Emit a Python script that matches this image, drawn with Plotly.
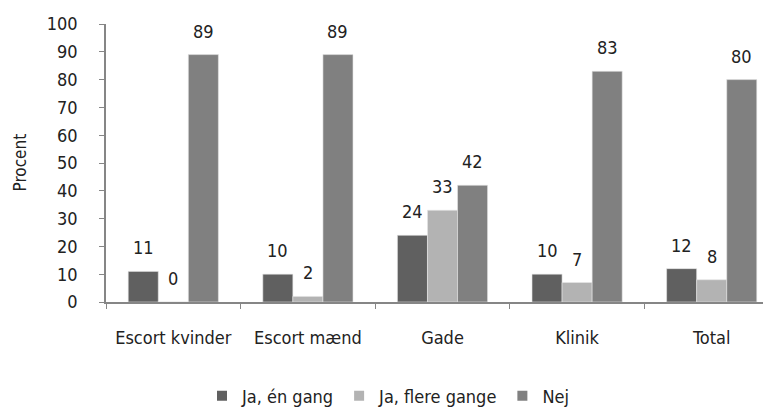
import plotly.graph_objects as go

categories = ["Escort kvinder", "Escort mænd", "Gade", "Klinik", "Total"]
series_names = ["Ja, én gang", "Ja, flere gange", "Nej"]
ja_en_gang = [11, 10, 24, 10, 12]
ja_flere_gange = [0, 2, 33, 7, 8]
nej = [89, 89, 42, 83, 80]
y_ticks = list(range(0, 101, 10))

colors = ["#606060", "#b3b3b3", "#808080"]
FONT = "DejaVu Sans Condensed, Liberation Sans Narrow, Roboto, sans-serif"

W, H = 771, 407
M = dict(l=98, r=0, t=16, b=113)  # page body has an 8px margin
BARGAP = 0.33

plot_w = W - M["l"] - M["r"]
bar_w = plot_w / len(categories) * (1 - BARGAP) / len(series_names)

fig = go.Figure()
labels = []
for i, (name, vals, color) in enumerate(zip(series_names, [ja_en_gang, ja_flere_gange, nej], colors)):
    fig.add_trace(
        go.Bar(
            x=categories,
            y=vals,
            name=name,
            marker=dict(color=color, line=dict(color="#e6e6e6", width=0.6)),
            showlegend=False,
        )
    )
    # square legend swatches like the original
    fig.add_trace(
        go.Scatter(
            x=[None],
            y=[None],
            mode="markers",
            name=name,
            marker=dict(symbol="square", size=10, color=color),
        )
    )
    # value labels sit a bit higher above the bars than plotly's outside text
    for cat, v in zip(categories, vals):
        labels.append(
            dict(
                x=cat,
                y=v,
                text=str(v),
                showarrow=False,
                xanchor="center",
                yanchor="bottom",
                xshift=(i - 1) * bar_w,
                yshift=11,
                font=dict(size=18, color="#222222"),
            )
        )

labels.append(
    dict(
        text="Procent",
        textangle=-90,
        xref="paper",
        yref="paper",
        x=-0.1285,
        y=0.5,
        xanchor="center",
        yanchor="middle",
        showarrow=False,
        font=dict(size=17),
    )
)

fig.update_layout(
    width=W,
    height=H,
    barmode="group",
    bargap=BARGAP,
    bargroupgap=0,
    plot_bgcolor="white",
    paper_bgcolor="white",
    font=dict(family=FONT, size=17, color="#222222"),
    margin=M,
    showlegend=True,
    legend=dict(
        orientation="h",
        xref="container",
        x=194 / W,
        xanchor="left",
        yref="container",
        y=19 / H,
        yanchor="middle",
        font=dict(size=18),
        itemwidth=30,
        tracegroupgap=0,
        traceorder="normal",
    ),
    annotations=labels,
)

fig.update_xaxes(
    range=[-0.5, 4.5],
    showline=True,
    linecolor="#868686",
    linewidth=1.5,
    ticks="outside",
    tickson="boundaries",
    ticklen=5,
    tickcolor="#868686",
    showgrid=False,
    tickfont=dict(size=18),
    ticklabelstandoff=19,
    automargin=False,
)

fig.update_yaxes(
    range=[0, 100],
    tickvals=y_ticks,
    showline=True,
    linecolor="#868686",
    linewidth=1.5,
    ticks="outside",
    ticklen=5,
    tickcolor="#868686",
    showgrid=False,
    zeroline=False,
    tickfont=dict(size=18),
    ticklabelstandoff=18,
    automargin=False,
)

fig.write_html("out.html")
